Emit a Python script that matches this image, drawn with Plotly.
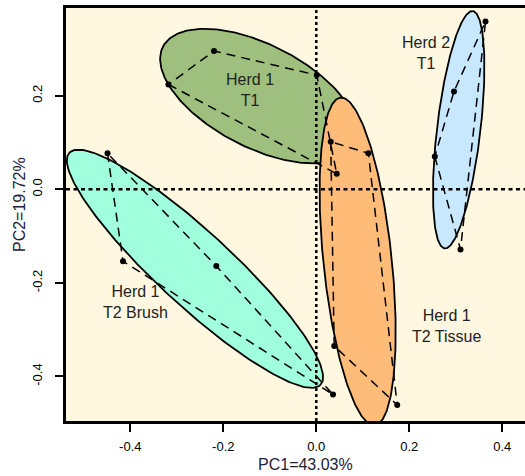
import numpy as np
import plotly.graph_objects as go

# PCA scores (PC1, PC2) for each sample group
h1_t1_pc1 = [-0.318, -0.220, 0.001, 0.044]
h1_t1_pc2 = [0.224, 0.2955, 0.244, 0.033]

h1_t2_tissue_pc1 = [0.031, 0.112, 0.0385, 0.174]
h1_t2_tissue_pc2 = [0.1017, 0.0769, -0.3348, -0.4609]

h1_t2_brush_pc1 = [-0.449, -0.4157, -0.2151, 0.0359]
h1_t2_brush_pc2 = [0.0769, -0.1538, -0.1639, -0.4385]

h2_t1_pc1 = [0.3639, 0.2961, 0.2548, 0.3101]
h2_t1_pc2 = [0.3585, 0.209, 0.0701, -0.1286]

group_labels = ["Herd 1<br>T1", "Herd 1<br>T2 Tissue", "Herd 1<br>T2 Brush", "Herd 2<br>T1"]
fill_colors = ["#9EBF7D", "#FFBB78", "#A0FFDC", "#C8E8FF"]

# dispersion ellipse shape per group: semi-axes and major-axis angle (deg)
ell_major = [0.232, 0.352, 0.3666, 0.2553]
ell_minor = [0.110, 0.0735, 0.0793, 0.0467]
ell_angle = [-27.0, -84.0, -42.5, 83.2]

# group label positions
label_x = [-0.1426, 0.2789, -0.3888, 0.2359]
label_y = [0.2122, -0.2927, -0.2402, 0.2906]

x_tick_vals = [-0.4, -0.2, 0.0, 0.2, 0.4]
x_tick_text = ["-0.4", "-0.2", "0.0", "0.2", "0.4"]
y_tick_vals = [-0.4, -0.2, 0.0, 0.2]
y_tick_text = ["-0.4", "-0.2", "0.0", "0.2"]

x_title = "PC1=43.03%"
y_title = "PC2=19.72%"

groups = [
    (h1_t1_pc1, h1_t1_pc2),
    (h1_t2_tissue_pc1, h1_t2_tissue_pc2),
    (h1_t2_brush_pc1, h1_t2_brush_pc2),
    (h2_t1_pc1, h2_t1_pc2),
]


def ellipse_path(xs, ys, a, b, angle_deg, n=240):
    cx, cy = np.mean(xs), np.mean(ys)
    th = np.deg2rad(angle_deg)
    t = np.linspace(0, 2 * np.pi, n)
    ex = cx + a * np.cos(t) * np.cos(th) - b * np.sin(t) * np.sin(th)
    ey = cy + a * np.cos(t) * np.sin(th) + b * np.sin(t) * np.cos(th)
    return ex, ey


def convex_hull(xs, ys):
    pts = sorted(zip(xs, ys))

    def cross(o, a, b):
        return (a[0] - o[0]) * (b[1] - o[1]) - (a[1] - o[1]) * (b[0] - o[0])

    lower, upper = [], []
    for p in pts:
        while len(lower) >= 2 and cross(lower[-2], lower[-1], p) <= 0:
            lower.pop()
        lower.append(p)
    for p in reversed(pts):
        while len(upper) >= 2 and cross(upper[-2], upper[-1], p) <= 0:
            upper.pop()
        upper.append(p)
    hull = lower[:-1] + upper[:-1]
    hull.append(hull[0])
    return [p[0] for p in hull], [p[1] for p in hull]


fig = go.Figure()

# filled ellipses
for (xs, ys), a, b, ang, col in zip(groups, ell_major, ell_minor, ell_angle, fill_colors):
    ex, ey = ellipse_path(xs, ys, a, b, ang)
    fig.add_trace(go.Scatter(
        x=ex, y=ey, mode="lines", fill="toself", fillcolor=col,
        line=dict(color="black", width=1.8), hoverinfo="skip", showlegend=False,
    ))

# dashed hulls
for xs, ys in groups:
    hx, hy = convex_hull(xs, ys)
    fig.add_trace(go.Scatter(
        x=hx, y=hy, mode="lines",
        line=dict(color="black", width=1.5, dash="9px,6px"),
        hoverinfo="skip", showlegend=False,
    ))

# sample points
for xs, ys in groups:
    fig.add_trace(go.Scatter(
        x=xs, y=ys, mode="markers",
        marker=dict(color="black", size=6),
        showlegend=False,
    ))

# zero reference lines
fig.add_shape(type="line", xref="x", yref="paper", x0=0, x1=0, y0=0, y1=1,
              line=dict(color="black", width=2.5, dash="3px,3px"))
fig.add_shape(type="line", xref="paper", yref="y", x0=0, x1=1, y0=0, y1=0,
              line=dict(color="black", width=2.5, dash="4px,3.5px"))

label_font = dict(family="Liberation Sans, Arial, sans-serif", size=16, color="#222222")
for txt, lx, ly in zip(group_labels, label_x, label_y):
    fig.add_annotation(x=lx, y=ly, xref="x", yref="y", text=txt, showarrow=False,
                       align="center", font=label_font)

title_font = dict(family="Liberation Sans, Arial, sans-serif", size=16, color="#1c2233")
fig.add_annotation(x=0.5207, y=-0.1053, xref="paper", yref="paper", text=x_title,
                   showarrow=False, font=title_font, xanchor="center", yanchor="middle")
fig.add_annotation(x=-0.1024, y=0.5254, xref="paper", yref="paper", text=y_title,
                   showarrow=False, font=title_font, textangle=-90,
                   xanchor="center", yanchor="middle")

tick_font = dict(family="Liberation Sans, Arial, sans-serif", size=13, color="black")
fig.update_layout(
    width=525, height=476,
    margin=dict(l=66, r=0, t=8, b=55),
    paper_bgcolor="white",
    plot_bgcolor="#FFF7E0",
    xaxis=dict(
        range=[-0.5383, 0.4488], tickvals=x_tick_vals, ticktext=x_tick_text,
        ticks="outside", ticklen=8, tickwidth=2, tickcolor="black",
        showline=True, linewidth=3, linecolor="black", mirror=True,
        showgrid=False, zeroline=False, tickfont=tick_font, ticklabelstandoff=3,
    ),
    yaxis=dict(
        range=[-0.4951, 0.3874], tickvals=y_tick_vals, ticktext=y_tick_text,
        ticks="outside", ticklen=8, tickwidth=2, tickcolor="black", tickangle=-90,
        showline=True, linewidth=3, linecolor="black", mirror=False,
        showgrid=False, zeroline=False, tickfont=tick_font, ticklabelstandoff=8,
    ),
)

fig.write_html("out.html")
